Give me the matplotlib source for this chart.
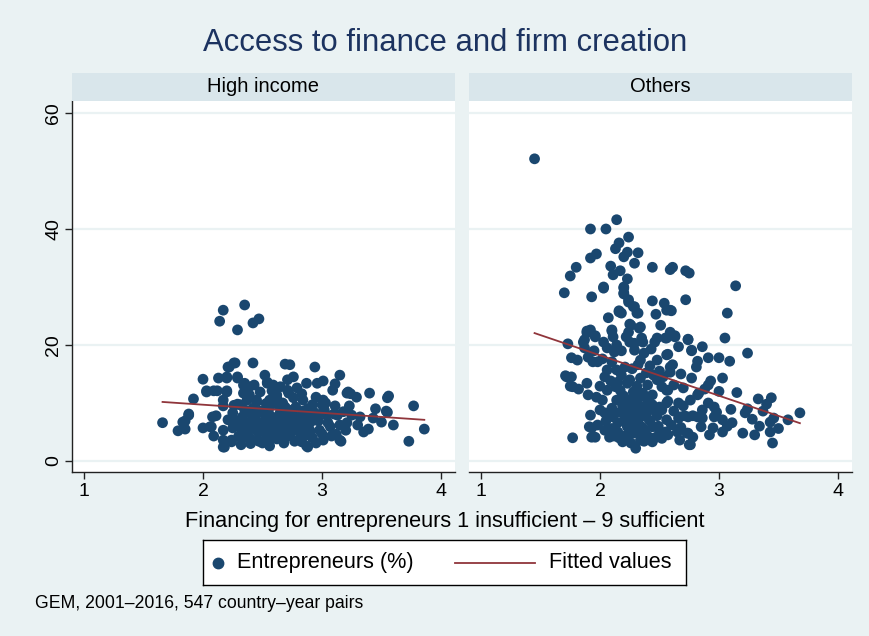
import numpy as np
import matplotlib
matplotlib.use("Agg")
import matplotlib.pyplot as plt
from matplotlib.lines import Line2D

plt.rcParams['font.family'] = ['Liberation Sans', 'DejaVu Sans']

# ---- data: (financing score, entrepreneurs %) per country-year ----
high_income_points = [
    (2.17, 26.0), (2.35, 26.9), (2.14, 24.1), (2.29, 22.6), (2.42, 23.8), (2.47, 24.5),
    (1.66, 6.6), (1.79, 5.2), (1.85, 6.9), (1.88, 8.1), (1.92, 10.7), (2.00, 14.1),
    (2.03, 12.1), (2.00, 5.7), (2.06, 5.9), (2.09, 4.3), (2.11, 7.8), (2.13, 14.3),
    (2.17, 3.6), (2.18, 2.4), (2.24, 3.3), (2.20, 14.3), (2.21, 16.2), (2.26, 16.9),
    (2.42, 16.9), (2.29, 14.3), (2.12, 12.1), (2.20, 12.1), (2.17, 10.5), (2.17, 9.5),
    (2.34, 13.1), (2.39, 12.8), (2.52, 14.8), (2.54, 13.4), (2.45, 10.5), (2.31, 9.7),
    (2.37, 10.5), (2.46, 3.6), (2.38, 4.0), (2.34, 4.1), (2.27, 16.9), (2.22, 16.2),
    (2.69, 16.7), (2.20, 14.5), (2.29, 14.5), (2.35, 13.4), (2.43, 13.1), (2.54, 13.6),
    (2.03, 11.9), (2.09, 12.1), (2.20, 11.9), (2.34, 11.7), (2.39, 11.4), (2.45, 10.2),
    (2.29, 9.8), (2.08, 7.6), (1.88, 7.9), (1.83, 6.7), (1.85, 5.5), (2.07, 5.9),
    (2.17, 5.3), (2.17, 2.4), (2.24, 3.6), (2.21, 7.1), (2.25, 8.3), (2.33, 7.6),
    (2.37, 6.6), (2.34, 4.8), (2.39, 4.0), (2.47, 3.4), (2.55, 3.6), (2.62, 3.8),
    (2.69, 4.1), (2.56, 10.5), (2.62, 10.9), (2.65, 12.8), (2.59, 13.1), (2.71, 14.0),
    (2.50, 8.4), (2.58, 7.6), (2.65, 8.4), (2.44, 6.2), (2.50, 5.7), (2.59, 5.7),
    (2.65, 6.6), (2.69, 5.7), (2.41, 7.9), (2.31, 5.9), (2.25, 5.7), (2.56, 9.3),
    (2.69, 9.3), (2.73, 16.6), (2.94, 16.2), (3.15, 14.8), (2.76, 14.5), (2.87, 13.4),
    (2.96, 13.4), (3.01, 13.8), (3.11, 13.3), (3.09, 12.2), (2.79, 12.6), (2.71, 12.2),
    (3.21, 11.7), (3.24, 11.6), (3.29, 11.0), (3.40, 11.7), (3.55, 10.9), (3.55, 8.4),
    (3.01, 10.5), (3.03, 10.0), (3.23, 9.5), (3.11, 9.5), (2.92, 9.7), (2.84, 10.5),
    (2.76, 10.9), (2.67, 10.0), (3.25, 7.9), (3.32, 7.6), (3.43, 7.4), (3.50, 6.7),
    (3.30, 6.2), (3.39, 5.5), (3.15, 3.6), (2.88, 2.4), (2.71, 4.3), (2.80, 5.9),
    (2.90, 6.6), (2.98, 5.3), (3.07, 5.9), (3.15, 6.2), (3.01, 3.6), (2.92, 4.0),
    (2.82, 4.1), (3.21, 6.6), (3.13, 7.9), (3.04, 7.9), (2.96, 7.9), (2.86, 7.9),
    (2.76, 7.9), (2.69, 7.9), (2.73, 5.9), (3.56, 11.2), (3.77, 9.5), (3.54, 8.6),
    (3.86, 5.5), (3.73, 3.4), (3.22, 11.9), (2.87, 2.6), (3.16, 3.4),
    (2.35, 8.8), (2.42, 9.1), (2.48, 8.6), (2.52, 7.1), (2.46, 5.0), (2.53, 4.5),
    (2.58, 4.8), (2.61, 6.9), (2.63, 9.7), (2.66, 7.4), (2.70, 6.4), (2.72, 8.8),
    (2.75, 7.0), (2.78, 9.3), (2.80, 7.4), (2.82, 5.0), (2.84, 8.6), (2.86, 6.4),
    (2.88, 9.0), (2.90, 5.2), (2.92, 7.1), (2.94, 8.3), (2.97, 6.9), (3.00, 4.7),
    (3.02, 8.8), (3.05, 6.6), (3.08, 4.3), (3.10, 8.1), (2.40, 5.5), (2.44, 7.3),
    (2.49, 6.3), (2.55, 8.3), (2.57, 6.0), (2.60, 4.1), (2.64, 5.0), (2.68, 3.1),
    (2.74, 4.8), (2.77, 3.4), (2.83, 3.3), (2.95, 3.1), (2.36, 6.0), (2.28, 6.9),
    (2.30, 4.3), (2.26, 9.6), (2.62, 11.4), (2.72, 11.7), (2.58, 12.1), (2.48, 11.9),
    (2.83, 11.6), (2.95, 11.0), (2.66, 8.9), (2.53, 9.9), (2.78, 6.1), (2.88, 4.5),
    (3.00, 9.7), (3.18, 8.5), (3.20, 5.3), (3.12, 4.6), (3.35, 5.0), (3.45, 9.0),
    (3.60, 6.2), (2.50, 3.1), (2.56, 2.6), (2.32, 2.8), (2.40, 3.0),
]

others_points = [
    (1.45, 52.1), (2.14, 41.6), (1.92, 40.0), (2.05, 40.0), (2.24, 38.6), (2.16, 37.6),
    (2.13, 36.6), (2.23, 36.0), (2.20, 35.2), (2.32, 35.9), (1.97, 35.7), (1.92, 35.0),
    (1.80, 33.4), (1.75, 31.9), (2.09, 33.6), (2.29, 34.1), (2.44, 33.4), (2.59, 33.0),
    (2.11, 32.1), (2.17, 32.8), (2.23, 31.4), (2.20, 29.8), (2.20, 28.8), (2.03, 29.8),
    (1.70, 29.0), (1.93, 28.3), (2.24, 27.8), (2.29, 26.6), (2.32, 25.5), (2.16, 25.9),
    (2.18, 25.5), (2.07, 24.7), (2.44, 27.6), (2.54, 27.2), (2.47, 25.3), (2.56, 26.0),
    (2.51, 23.4), (2.34, 23.1), (2.26, 23.4), (2.24, 22.2), (2.10, 22.6), (1.92, 22.6),
    (1.89, 22.4), (1.87, 20.9), (1.96, 21.6), (2.11, 21.4), (2.35, 21.2), (2.48, 21.2),
    (2.56, 21.2), (2.61, 33.4), (2.72, 32.8), (2.75, 32.4), (3.14, 30.2), (2.72, 27.8),
    (2.59, 26.0), (3.07, 25.5), (3.05, 21.2), (2.59, 22.2), (2.63, 21.6), (2.74, 21.0),
    (2.66, 19.7), (2.57, 18.4), (2.77, 19.0), (2.86, 19.7), (2.91, 17.8), (3.00, 17.8),
    (3.09, 17.2), (3.24, 18.6), (2.82, 17.2), (2.81, 16.2), (2.61, 16.6), (2.59, 15.3),
    (2.77, 14.3), (2.93, 13.8), (2.91, 13.1), (3.03, 14.3), (2.57, 12.2), (2.83, 11.7),
    (2.76, 10.5), (2.57, 10.3), (2.66, 10.0), (2.91, 10.0), (2.96, 9.3), (2.98, 8.4),
    (2.86, 8.8), (2.78, 7.8), (2.71, 7.8), (2.66, 7.4), (2.56, 7.1), (2.86, 7.4),
    (2.96, 7.6), (3.03, 7.1), (3.11, 6.6), (3.07, 6.0), (3.03, 5.0), (3.22, 8.3),
    (3.24, 9.0), (3.33, 10.7), (3.44, 10.9), (3.37, 8.6), (3.43, 6.7), (3.46, 7.4),
    (3.34, 6.0), (3.43, 5.0), (3.30, 4.5), (3.20, 4.8), (3.45, 3.1), (2.57, 4.5),
    (2.65, 5.0), (2.67, 3.6), (2.73, 4.8), (2.78, 4.1), (2.75, 2.8), (3.68, 8.3),
    (3.58, 7.1), (2.03, 30.0), (2.20, 30.0), (2.20, 29.0), (2.24, 27.4), (2.28, 26.6),
    (2.31, 25.5), (2.16, 25.7), (2.60, 25.9), (2.33, 22.9), (2.25, 23.6), (2.10, 22.4),
    (1.89, 22.1), (1.96, 21.4), (2.03, 20.5), (1.86, 20.5), (1.73, 20.2), (1.87, 19.5),
    (1.90, 17.9), (1.76, 17.8), (1.81, 17.4), (1.94, 17.1), (1.98, 17.1), (1.71, 14.7),
    (1.76, 14.5), (1.75, 12.9), (1.82, 12.4), (1.89, 13.4), (1.90, 11.4), (1.97, 11.0),
    (2.00, 12.9), (2.04, 14.5), (2.06, 15.7), (2.10, 17.1), (2.12, 18.8), (2.14, 20.0),
    (2.22, 21.4), (2.25, 20.5), (2.29, 19.1), (2.37, 18.6), (2.34, 17.4), (2.29, 20.3),
    (2.36, 20.5), (2.46, 20.5), (2.55, 21.2), (2.63, 21.4), (2.74, 20.9), (2.77, 19.1),
    (2.56, 18.3), (2.48, 17.4), (2.59, 16.2), (2.53, 14.5), (2.45, 14.8), (2.39, 15.2),
    (2.34, 14.3), (2.40, 13.1), (2.48, 14.0), (2.56, 12.2), (2.31, 12.9), (2.25, 14.0),
    (2.18, 14.8), (2.14, 15.7), (2.17, 12.2), (2.23, 13.4), (2.28, 11.9), (2.36, 11.7),
    (2.44, 11.4), (2.18, 11.0), (2.14, 10.5), (2.10, 9.1), (2.04, 8.3), (2.11, 7.6),
    (2.17, 8.4), (2.23, 9.7), (2.31, 10.0), (2.36, 9.3), (2.44, 9.7), (2.50, 9.3),
    (2.56, 10.0), (2.82, 11.4), (1.92, 7.9), (1.93, 5.7), (1.98, 6.2), (2.04, 5.3),
    (2.08, 4.1), (1.96, 4.1), (1.77, 4.0), (2.15, 5.0), (2.23, 5.9), (2.28, 4.8),
    (2.34, 3.6), (2.30, 2.2), (2.25, 7.1), (2.32, 7.1), (2.39, 7.6), (2.48, 7.8),
    (2.67, 7.6), (2.74, 7.6), (2.82, 7.6), (2.56, 4.7), (2.74, 4.8), (2.76, 2.8),
    (2.44, 5.9), (2.38, 5.3), (2.21, 8.3), (2.28, 8.4), (2.35, 8.3), (1.93, 4.1),
    (1.91, 5.9), (2.27, 5.0), (2.55, 5.0), (1.72, 14.5), (1.77, 12.8),
    (2.13, 12.8), (2.20, 11.2), (2.26, 10.5), (2.33, 11.0), (2.40, 10.3), (2.19, 9.5),
    (2.28, 9.0), (2.41, 8.8), (2.47, 8.4), (2.15, 6.6), (2.20, 6.9), (2.30, 6.0),
    (2.35, 5.9), (2.42, 6.9), (2.49, 6.0), (2.52, 8.8), (2.12, 4.3), (2.19, 3.3),
    (2.26, 3.1), (2.40, 4.3), (2.46, 4.0), (2.50, 5.0), (2.05, 6.9), (2.00, 8.8),
    (2.02, 10.5), (2.06, 12.2), (2.09, 13.8), (2.15, 13.6), (2.21, 16.2), (2.27, 15.9),
    (2.32, 16.6), (2.42, 16.4), (2.50, 15.5), (2.02, 17.6), (1.95, 19.0), (2.06, 19.5),
    (2.18, 19.0), (2.43, 19.3), (2.52, 12.8), (2.62, 13.1), (2.70, 12.6), (2.68, 15.0),
    (2.88, 12.4), (2.62, 8.6), (2.70, 9.5), (2.85, 5.9), (2.92, 4.5), (2.95, 5.7),
    (2.10, 5.6), (2.16, 4.0), (2.22, 4.4), (2.24, 6.4), (2.33, 4.7), (2.37, 3.4),
    (2.44, 3.3), (2.52, 3.9), (2.60, 6.2), (2.68, 5.8), (3.10, 8.9), (3.28, 7.2),
    (3.40, 9.8), (3.50, 5.6), (3.15, 11.8), (3.00, 12.0),
]

panel_titles = ["High income", "Others"]
x_ticks = [1, 2, 3, 4]
y_ticks = [0, 20, 40, 60]

# ---- style ----
BG = "#EAF2F3"
STRIP = "#D9E6EB"
MARKER = "#1A476F"
FIT = "#90353B"
TITLE = "#1C3360"

W, H = 870, 636
fig = plt.figure(figsize=(W / 100, H / 100), dpi=100, facecolor=BG)


def fx(px):
    return px / W


def fy(py):
    return 1 - py / H


panel_left = [72, 469]
panel_w = 383
plot_top, plot_bot = 101, 472
strip_top = 73

datasets = [high_income_points, others_points]

for i, (pts, title) in enumerate(zip(datasets, panel_titles)):
    xs = np.array([p[0] for p in pts])
    ys = np.array([p[1] for p in pts])

    ax = fig.add_axes([fx(panel_left[i]), fy(plot_bot), panel_w / W, (plot_bot - plot_top) / H])
    ax.set_facecolor("white")
    ax.set_xlim(0.899, 4.118)
    ax.set_ylim(-1.9, 62.07)
    for yv in y_ticks:
        ax.axhline(yv, color=BG, lw=1.6, zorder=0)

    ax.scatter(xs, ys, s=60, color=MARKER, edgecolors="none", zorder=2)

    slope, intercept = np.polyfit(xs, ys, 1)
    xfit = np.array([xs.min(), xs.max()])
    ax.plot(xfit, intercept + slope * xfit, color=FIT, lw=1.3, zorder=3)

    for side in ("top", "right"):
        ax.spines[side].set_visible(False)
    ax.spines["bottom"].set_color("#222222")
    ax.spines["bottom"].set_linewidth(1.0)
    ax.set_xticks(x_ticks)
    ax.tick_params(axis="x", direction="out", length=5, width=1, color="#222222",
                   labelsize=14, pad=3)
    if i == 0:
        ax.spines["left"].set_color("#222222")
        ax.spines["left"].set_linewidth(1.0)
        ax.set_yticks(y_ticks)
        ax.tick_params(axis="y", direction="out", length=5, width=1, color="#222222",
                       labelsize=14, pad=2)
        for lbl in ax.get_yticklabels():
            lbl.set_rotation(90)
            lbl.set_va("center")
    else:
        ax.spines["left"].set_visible(False)
        ax.set_yticks([])

    # panel header strip
    sax = fig.add_axes([fx(panel_left[i]), fy(plot_top), panel_w / W, (plot_top - strip_top) / H])
    sax.set_facecolor(STRIP)
    sax.set_xticks([])
    sax.set_yticks([])
    for sp in sax.spines.values():
        sp.set_visible(False)
    sax.text(0.5, 0.5, title, ha="center", va="center", fontsize=14.5, color="black",
             transform=sax.transAxes)

fig.text(fx(445), fy(43), "Access to finance and firm creation", ha="center", va="center",
         fontsize=22.3, color=TITLE)
fig.text(fx(445), fy(521), "Financing for entrepreneurs 1 insufficient \u2013 9 sufficient",
         ha="center", va="center", fontsize=15.7, color="black")
fig.text(fx(35), fy(603), "GEM, 2001\u20132016, 547 country\u2013year pairs", ha="left",
         va="center", fontsize=12.7, color="black")

# legend box
lax = fig.add_axes([fx(203), fy(585), 483 / W, 45 / H])
lax.set_facecolor("white")
lax.set_xlim(0, 1)
lax.set_ylim(0, 1)
lax.set_xticks([])
lax.set_yticks([])
for sp in lax.spines.values():
    sp.set_color("black")
    sp.set_linewidth(1.0)
lax.add_line(Line2D([0.031], [0.5], marker="o", markersize=7.5, color=MARKER, lw=0))
lax.text(0.070, 0.5, "Entrepreneurs (%)", va="center", ha="left", fontsize=15.6)
lax.add_line(Line2D([0.522, 0.687], [0.5, 0.5], color=FIT, lw=1.3))
lax.text(0.716, 0.5, "Fitted values", va="center", ha="left", fontsize=15.6)

fig.savefig("out.png", dpi=100, facecolor=BG)
